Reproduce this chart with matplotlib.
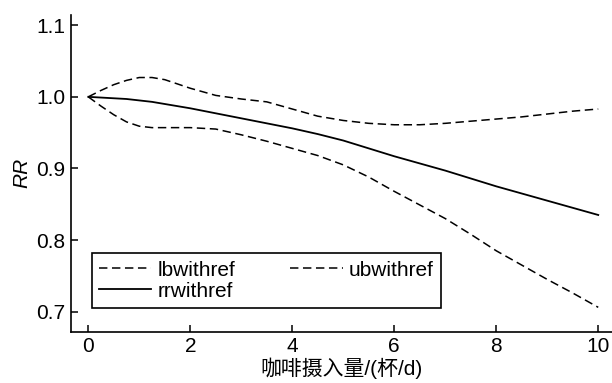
import matplotlib

matplotlib.use("Agg")
import matplotlib.pyplot as plt

plt.rcParams["font.family"] = ["Liberation Sans", "Noto Sans CJK SC"]
plt.rcParams["font.size"] = 15

# coffee intake (cups/day) and RR curves
dose = [0, 0.25, 0.5, 0.75, 1, 1.25, 1.5, 1.75, 2, 2.5, 3, 3.5, 4, 4.5, 5,
        5.5, 6, 6.5, 7, 7.5, 8, 8.5, 9, 9.5, 10]
rr_with_ref = [1.000, 0.999, 0.998, 0.997, 0.995, 0.993, 0.990, 0.987, 0.984,
               0.977, 0.970, 0.963, 0.956, 0.948, 0.939,
               0.928, 0.917, 0.907, 0.897, 0.886, 0.875, 0.865, 0.855, 0.845, 0.835]
lb_with_ref = [1.000, 0.987, 0.975, 0.965, 0.959, 0.957, 0.957, 0.957, 0.957,
               0.955, 0.947, 0.938, 0.928, 0.918, 0.905,
               0.888, 0.868, 0.849, 0.830, 0.808, 0.785, 0.765, 0.745, 0.726, 0.706]
ub_with_ref = [1.000, 1.009, 1.017, 1.023, 1.027, 1.027, 1.024, 1.018, 1.012,
               1.002, 0.997, 0.993, 0.983, 0.973, 0.967,
               0.963, 0.961, 0.961, 0.963, 0.966, 0.969, 0.972, 0.976, 0.980, 0.983]

x_ticks = [0, 2, 4, 6, 8, 10]
y_ticks = [0.7, 0.8, 0.9, 1.0, 1.1]

DASH = (0, (5.5, 3))


def main():
    fig = plt.figure(figsize=(6.12, 3.83), dpi=100)
    ax = fig.add_axes([0.1155, 0.134, 0.8845, 0.827])

    lb, = ax.plot(dose, lb_with_ref, color="black", lw=1.1, linestyle=DASH, label="lbwithref")
    ub, = ax.plot(dose, ub_with_ref, color="black", lw=1.1, linestyle=DASH, label="ubwithref")
    rr, = ax.plot(dose, rr_with_ref, color="black", lw=1.3, label="rrwithref")

    ax.set_xlim(-0.345, 10.27)
    ax.set_ylim(0.672, 1.1144)
    ax.set_xticks(x_ticks)
    ax.set_yticks(y_ticks)
    ax.set_yticklabels([f"{v:.1f}" for v in y_ticks])
    ax.tick_params(direction="in", length=5, width=1.1, pad=4)

    for side in ("top", "right"):
        ax.spines[side].set_visible(False)
    for side in ("left", "bottom"):
        ax.spines[side].set_linewidth(1.2)

    ax.set_xlabel("咖啡摄入量/(杯/d)", labelpad=1)
    ax.set_ylabel("RR", style="italic", labelpad=3)

    # order so that row 1 is lb / ub and row 2 is rr
    leg = ax.legend([lb, rr, ub], ["lbwithref", "rrwithref", "ubwithref"],
                    ncol=2, loc="lower left", bbox_to_anchor=(0.039, 0.075, 0.645, 0.18),
                    mode="expand", borderaxespad=0, fancybox=False, framealpha=1,
                    edgecolor="black", handlelength=2.5, handletextpad=0.3,
                    labelspacing=0.1, borderpad=0.35, columnspacing=1.0)
    leg.get_frame().set_linewidth(1.2)

    fig.savefig("out.png", dpi=100)
    plt.close(fig)


if __name__ == "__main__":
    main()
